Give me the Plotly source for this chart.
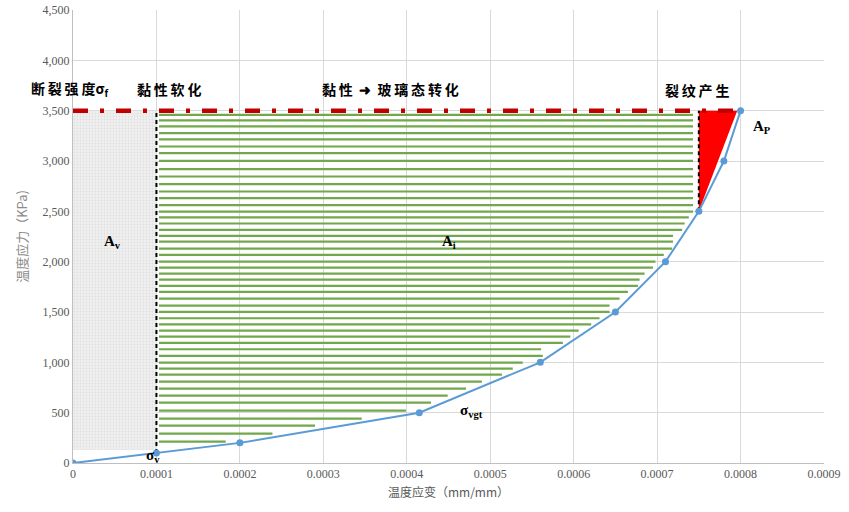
import plotly.graph_objects as go

# Stress-strain curve
strain = [0, 0.0001, 0.0002, 0.000415, 0.00056, 0.00065, 0.00071, 0.00075, 0.00078, 0.0008]
stress = [0, 100, 200, 500, 1000, 1500, 2000, 2500, 3000, 3500]

# Green hatch lines (stress level, end strain x1e-4)
hatch_levels = [3459, 3403, 3343, 3277, 3214, 3144, 3079, 3002, 2919, 2846, 2770, 2697, 2631,
                2562, 2498, 2439, 2379, 2316, 2256, 2200, 2130, 2068, 2001, 1941, 1882, 1822,
                1759, 1700, 1633, 1564, 1501, 1438, 1378, 1315, 1256, 1193, 1130, 1064, 997,
                937, 878, 808, 739, 669, 599, 520, 440, 371, 291, 212]
hatch_ends = [7.43, 7.43, 7.43, 7.43, 7.43, 7.43, 7.43, 7.43, 7.43, 7.43, 7.43, 7.43, 7.43,
              7.43, 7.43, 7.38, 7.33, 7.30, 7.19, 7.19, 7.18, 7.08, 6.98, 6.95, 6.85, 6.79,
              6.77, 6.65, 6.55, 6.43, 6.43, 6.31, 6.21, 6.06, 5.96, 5.87, 5.61, 5.63, 5.39,
              5.27, 5.14, 4.90, 4.71, 4.49, 4.29, 3.99, 3.46, 2.90, 2.39, 1.83]
hatch_start = 0.000103

fracture_strength = 3500
viscous_limit = 0.0001
crack_strain = 0.00075
crack_stress = 2500
red_tip = 0.000796

fig = go.Figure()

# Gray textured viscous region
fig.add_trace(go.Scatter(
    x=[0, viscous_limit, viscous_limit, 0, 0],
    y=[130, 130, fracture_strength, fracture_strength, 130],
    mode="lines", line=dict(width=0), fill="toself",
    fillcolor="#ECECEC",
    fillpattern=dict(shape=".", fgcolor="#D2D2D2", bgcolor="#EFEFEF", size=3, solidity=0.3),
    hoverinfo="skip", showlegend=False))

# Green hatch lines
hx, hy = [], []
for lv, e in zip(hatch_levels, hatch_ends):
    hx += [hatch_start, e * 1e-4, None]
    hy += [lv, lv, None]
fig.add_trace(go.Scatter(x=hx, y=hy, mode="lines",
                         line=dict(color="#70A84B", width=2.2),
                         hoverinfo="skip", showlegend=False))

# Red triangle
fig.add_trace(go.Scatter(
    x=[crack_strain, crack_strain, red_tip, crack_strain],
    y=[crack_stress, fracture_strength, fracture_strength, crack_stress],
    mode="lines", line=dict(width=0), fill="toself", fillcolor="#FF0000",
    hoverinfo="skip", showlegend=False))

# Black dashed verticals
fig.add_trace(go.Scatter(
    x=[viscous_limit, viscous_limit, None, crack_strain, crack_strain],
    y=[100, fracture_strength, None, crack_stress, fracture_strength],
    mode="lines", line=dict(color="black", width=2, dash="4px,3px"),
    hoverinfo="skip", showlegend=False))

# Fracture strength dash-dot line
fig.add_trace(go.Scatter(
    x=[0, 0.0008], y=[fracture_strength, fracture_strength],
    mode="lines", line=dict(color="#C00000", width=4.5, dash="15px,12px,4px,12px"),
    hoverinfo="skip", showlegend=False))

# Curve
fig.add_trace(go.Scatter(
    x=strain, y=stress, mode="lines+markers",
    line=dict(color="#5B9BD5", width=2),
    marker=dict(color="#5B9BD5", size=7),
    showlegend=False))

bold = dict(family="Noto Sans CJK SC, Liberation Serif", size=14, color="black")
serifb = dict(family="Liberation Serif", size=15, color="black")
ts = "\u2009"

ann = [
    dict(x=0.000115, y=3720, text="<b>" + ts.join("黏性软化") + "</b>", font=bold),
    dict(x=0.00038, y=3720, text="<b>" + ts.join("黏性") + "  ➜  " + ts.join("玻璃态转化") + "</b>", font=bold),
    dict(x=0.000748, y=3710, text="<b>" + ts.join("裂纹产生") + "</b>", font=bold),
    dict(x=0.000826, y=3340, text="<b>A<sub>P</sub></b>", font=serifb),
    dict(x=0.0000468, y=2200, text="<b>A<sub>v</sub></b>", font=serifb),
    dict(x=0.00045, y=2200, text="<b>A<sub>i</sub></b>", font=serifb),
    dict(x=0.000477, y=520, text="<b>σ<sub>vgt</sub></b>", font=serifb),
    dict(x=0.000096, y=70, text="<b>σ<sub>v</sub></b>", font=serifb),
]
for a in ann:
    a.update(xref="x", yref="y", showarrow=False, xanchor="center")
ann.append(dict(x=-0.004, xref="paper", y=3720, yref="y", showarrow=False,
                xanchor="center", text="<b>" + ts.join("断裂强度") + "σ<sub>f</sub></b>", font=bold))

fig.update_layout(
    width=849, height=512,
    margin=dict(l=73, r=25, t=10, b=49),
    paper_bgcolor="white", plot_bgcolor="white",
    annotations=ann,
    xaxis=dict(range=[0, 0.0009], dtick=0.0001, tick0=0, tickformat="~g",
               automargin=False,
               showgrid=True, gridcolor="#D9D9D9", gridwidth=1,
               showline=True, linecolor="#BFBFBF", zeroline=False,
               ticks="", tickfont=dict(family="Liberation Serif", size=12, color="#595959"),
               title=dict(text="温度应变（mm/mm）", standoff=8,
                          font=dict(family="Noto Sans CJK SC", size=12, color="#595959"))),
    yaxis=dict(range=[0, 4500], dtick=500, tickformat=",",
               automargin=False,
               showgrid=True, gridcolor="#D9D9D9", gridwidth=1,
               showline=True, linecolor="#BFBFBF", zeroline=False,
               ticks="", tickfont=dict(family="Liberation Serif", size=12, color="#595959"),
               title=dict(text="温度应力（KPa)", standoff=12,
                          font=dict(family="Noto Sans CJK SC", size=13, color="#8C8C8C"))),
)

fig.write_html("out.html", config={"displayModeBar": False},
               post_script="document.body.style.margin='0';document.body.style.padding='0';")
